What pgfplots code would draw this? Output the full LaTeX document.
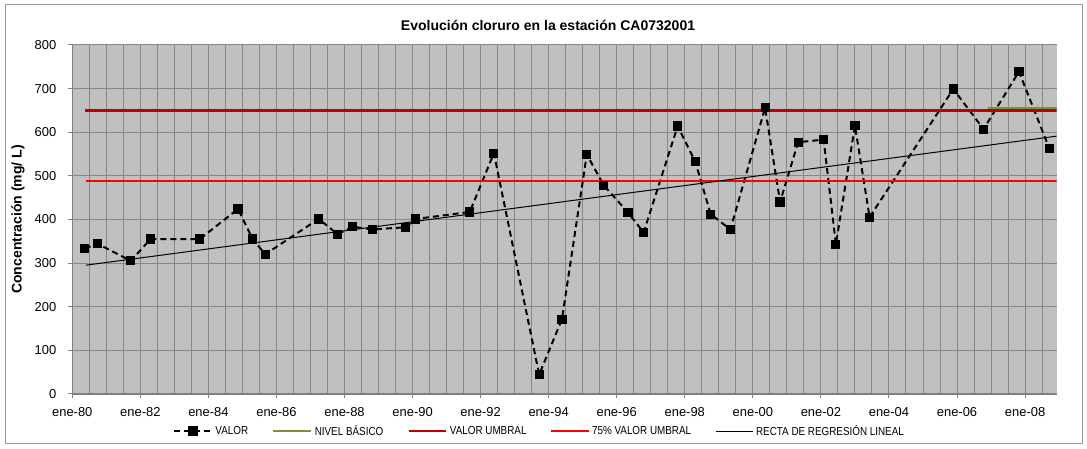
\documentclass[border=0pt]{standalone}
\usepackage{pgfplots}
\pgfplotsset{compat=1.18}
\usepackage{fontspec}
\setmainfont{Liberation Sans}
\newfontfamily\legfont[FakeStretch=0.85]{Liberation Sans}

\definecolor{plotbg}{HTML}{C0C0C0}
\definecolor{gridc}{HTML}{878787}
\definecolor{axisc}{HTML}{808080}
\definecolor{umbral}{HTML}{C00000}
\definecolor{umbralsf}{HTML}{FF0000}
\definecolor{basico}{HTML}{77933C}

\begin{document}
\begin{tikzpicture}
\begin{axis}[
    scale only axis,
    width=738.3pt, height=261.6pt,
    xmin=1980, xmax=2008.93,
    ymin=0, ymax=800,
    axis x line*=bottom, axis y line*=left,
    x axis line style={axisc, line width=1.5pt},
    y axis line style={axisc, line width=0.75pt},
    axis background/.style={fill=plotbg},
    xtick={1980,1982,1984,1986,1988,1990,1992,1994,1996,1998,2000,2002,2004,2006,2008},
    xticklabels={ene-80,ene-82,ene-84,ene-86,ene-88,ene-90,ene-92,ene-94,ene-96,ene-98,ene-00,ene-02,ene-04,ene-06,ene-08},
    minor xtick={1980.5,1981,1981.5,1982.5,1983,1983.5,1984.5,1985,1985.5,
        1986.5,1987,1987.5,1988.5,1989,1989.5,1990.5,1991,1991.5,
        1992.5,1993,1993.5,1994.5,1995,1995.5,1996.5,1997,1997.5,
        1998.5,1999,1999.5,2000.5,2001,2001.5,2002.5,2003,2003.5,
        2004.5,2005,2005.5,2006.5,2007,2007.5,2008.5},
    ytick={0,100,200,300,400,500,600,700,800},
    grid=both,
    major grid style={gridc, line width=0.75pt},
    minor grid style={gridc, line width=0.75pt},
    tick align=outside,
    major tick length=3pt, minor tick length=0pt,
    tick style={axisc, line width=0.75pt},
    /pgf/number format/assume math mode=true,
    tick label style={font=\fontsize{9.7}{11}\selectfont, black},
    xticklabel style={yshift=-4pt},
    yticklabel style={xshift=-5.5pt},
    ylabel={\bfseries Concentración (mg/ L)},
    ylabel style={font=\fontsize{10.5}{12}\selectfont, at={(axis description cs:-0.0551,0.5)}, anchor=center},
    legend columns=5,
    legend cell align=left,
    legend style={at={(axis description cs:0.4751,-0.1067)}, anchor=center,
        draw=none, fill=none, font=\legfont\fontsize{8.7}{10}\selectfont,
        /tikz/every even column/.append style={column sep=16pt}},
    legend image code/.code={\draw[mark repeat=2,mark phase=2] plot coordinates {(0pt,0pt) (14pt,0pt) (28pt,0pt)};},
]
\addplot[black, line width=1.5pt, dash pattern=on 4.5pt off 3pt, mark=square*, mark size=2.7pt, mark options={solid}] coordinates {
(1980.37,334) (1980.75,344) (1981.72,305) (1982.30,355) (1983.75,355)
(1984.87,424) (1985.30,355) (1985.67,320) (1987.24,401) (1987.80,366)
(1988.24,383) (1988.83,377) (1989.80,382) (1990.09,401) (1991.68,417)
(1992.39,552) (1993.72,44) (1994.39,171) (1995.12,549) (1995.62,478)
(1996.33,416) (1996.79,370) (1997.79,614) (1998.31,532) (1998.76,412)
(1999.34,377) (2000.36,656) (2000.80,440) (2001.33,577) (2002.08,583)
(2002.44,343) (2003.00,615) (2003.43,405) (2005.89,699) (2006.78,607)
(2007.82,739) (2008.71,563)
};
\addlegendentry{VALOR}
\addplot[basico, line width=2pt] coordinates {(2006.9,654) (2008.93,654)};
\addlegendentry{NIVEL BÁSICO}
\addplot[umbral, line width=2pt] coordinates {(1980.38,650) (2008.93,650)};
\addlegendentry{VALOR UMBRAL}
\addplot[umbralsf, line width=1.2pt] coordinates {(1980.40,487.5) (2008.93,487.5)};
\addlegendentry{75\% VALOR UMBRAL}
\addplot[black, line width=0.75pt] coordinates {(1980.40,295) (2008.93,591)};
\addlegendentry{RECTA DE REGRESIÓN LINEAL}
\end{axis}
\path (-54.2pt,-40.65pt) rectangle (761pt,295.35pt);
\draw[gray!80, line width=0.75pt] (-50.45pt,-36.9pt) rectangle (757.25pt,291.6pt);
\node[font=\bfseries\fontsize{10.5}{12}\selectfont] at (356.8pt,276.6pt) {Evolución cloruro en la estación CA0732001};
\end{tikzpicture}
\end{document}
